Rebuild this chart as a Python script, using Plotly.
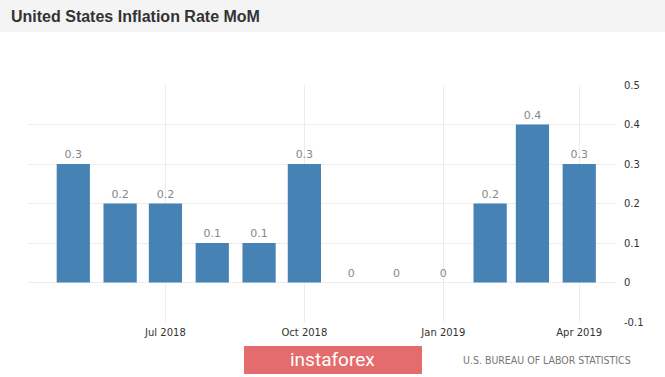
import plotly.graph_objects as go

months = ["2018-05-01", "2018-06-01", "2018-07-01", "2018-08-01", "2018-09-01", "2018-10-01",
          "2018-11-01", "2018-12-01", "2019-01-01", "2019-02-01", "2019-03-01", "2019-04-01"]
values = [0.3, 0.2, 0.2, 0.1, 0.1, 0.3, 0, 0, 0, 0.2, 0.4, 0.3]
labels = ["0.3", "0.2", "0.2", "0.1", "0.1", "0.3", "0", "0", "0", "0.2", "0.4", "0.3"]
xtick_vals = ["2018-07-01", "2018-10-01", "2019-01-01", "2019-04-01"]
xtick_text = ["Jul 2018", "Oct 2018", "Jan 2019", "Apr 2019"]
ytick_vals = [-0.1, 0, 0.1, 0.2, 0.3, 0.4, 0.5]
ytick_text = ["-0.1", "0", "0.1", "0.2", "0.3", "0.4", "0.5"]

W, H = 665, 377
L, R, T, B = 28, 48, 85, 55
PW, PH = W - L - R, H - T - B


def px(x):
    return (x - L) / PW


def py(y):
    return (H - B - y) / PH


fig = go.Figure()
fig.add_trace(go.Bar(
    x=months, y=values, text=labels, textposition="outside",
    textfont=dict(color="#888888", size=11, family="DejaVu Sans"),
    marker=dict(color="#4682b4", line=dict(width=0)),
    width=22 * 86400000, cliponaxis=False,
))

fig.update_layout(
    width=W, height=H,
    margin=dict(l=L, r=R, t=T, b=B),
    paper_bgcolor="white", plot_bgcolor="white",
    showlegend=False,
    font=dict(family="DejaVu Sans", color="#333333"),
    xaxis=dict(type="date", range=["2018-04-01", "2019-04-26"],
               tickvals=xtick_vals, ticktext=xtick_text,
               showgrid=True, gridcolor="#ececec", gridwidth=1,
               tickfont=dict(size=10, color="#333333"), ticks="", showline=False,
               zeroline=False, ticklabelstandoff=3),
    yaxis=dict(range=[-0.1, 0.5], side="right", tickvals=ytick_vals, ticktext=ytick_text,
               showgrid=True, gridcolor="#ececec", gridwidth=1, zeroline=False,
               tickfont=dict(size=10, color="#333333"), ticks="", ticklabelstandoff=6),
    shapes=[
        dict(type="rect", xref="paper", yref="paper", x0=px(0), x1=px(W),
             y0=py(32), y1=py(0), fillcolor="#f4f4f4", line=dict(width=0), layer="below"),
        dict(type="rect", xref="paper", yref="paper", x0=px(244), x1=px(422),
             y0=py(374), y1=py(346), fillcolor="#e46c6c", line=dict(width=0)),
    ],
    annotations=[
        dict(text="<b>United States Inflation Rate MoM</b>", xref="paper", yref="paper",
             x=px(9), y=py(16), xanchor="left", yanchor="middle", showarrow=False,
             font=dict(family="Liberation Sans", size=16, color="#333333")),
        dict(text="instaforex", xref="paper", yref="paper",
             x=px(332), y=py(359), xanchor="center", yanchor="middle", showarrow=False,
             font=dict(family="Roboto", size=19, color="white")),
        dict(text="U.S. BUREAU OF LABOR STATISTICS", xref="paper", yref="paper",
             x=px(633), y=py(360), xanchor="right", yanchor="middle", showarrow=False,
             font=dict(family="DejaVu Sans Condensed", size=10.5, color="#777777")),
    ],
)

fig.write_html("out.html", config={"displayModeBar": False},
               post_script="document.body.style.margin='0px';document.body.style.overflow='hidden';")
